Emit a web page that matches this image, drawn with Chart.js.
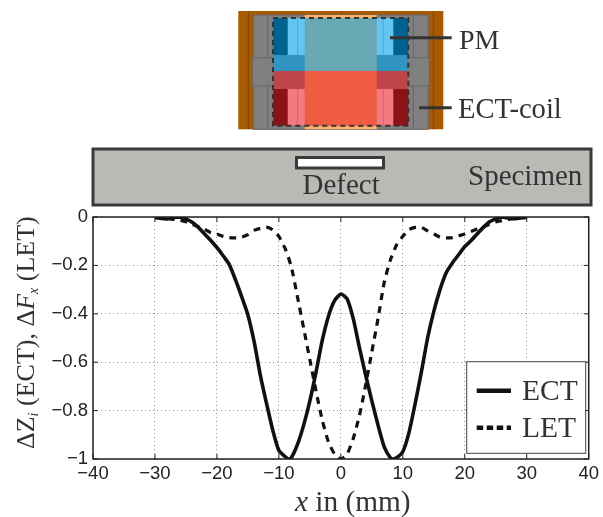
<!DOCTYPE html>
<html>
<head>
<meta charset="utf-8">
<title>ECT and LET signals</title>
<script src="https://cdn.jsdelivr.net/npm/chart.js@4/dist/chart.umd.min.js"></script>
<style>
    html, body { margin: 0; padding: 0; background: #fff; overflow: hidden; }
    #wrap { position: relative; width: 603px; height: 517px; }
    canvas, svg { position: absolute; left: 0; top: 0; }
    svg text { font-family: "Liberation Serif", serif; fill: #333; }
</style>
</head>
<body>
<div id="wrap">
    <canvas id="signalChart" width="603" height="517"></canvas>
    <svg width="603" height="517" viewBox="0 0 603 517">
        <!-- sensor sketch -->
        <rect x="238.3" y="11" width="205" height="118.3" fill="#a85a00"/>
        <path d="M248.3 11V129.3M433.3 11V129.3M341.5 11V15" stroke="#7a4200" stroke-width="1" fill="none"/>
        <rect x="253.3" y="15" width="175" height="114.3" fill="#808080" stroke="#666"/>
        <rect x="252.3" y="57.7" width="177" height="28.3" fill="#808080" stroke="#666"/>
        <path d="M267.7 15V57.7M413.3 15V57.7M267.7 86V129.3M413.3 86V129.3" stroke="#666" fill="none"/>
        <rect x="304.7" y="15" width="72" height="114.3" fill="#fcb06a"/>
        <rect x="273.3" y="18" width="135" height="37" fill="#00628f"/>
        <rect x="287.7" y="18" width="105.6" height="37" fill="#64c4f2"/>
        <rect x="273.3" y="55" width="135" height="16" fill="#3294c0"/>
        <rect x="304.7" y="18" width="72" height="53" fill="#69a9b6"/>
        <rect x="273.3" y="71" width="135" height="18" fill="#c04548"/>
        <rect x="273.3" y="89" width="135" height="36.7" fill="#8c1218"/>
        <rect x="287.7" y="89" width="105.6" height="36.7" fill="#f27a80"/>
        <rect x="304.7" y="71" width="72" height="54.7" fill="#f05c42"/>
        <path d="M297.7 18V55M383.3 18V55" stroke="#4aa8d8" fill="none"/>
        <path d="M297.7 89V125.7M383.3 89V125.7" stroke="#d9646a" fill="none"/>
        <rect x="273" y="18" width="135.3" height="107.7" fill="none" stroke="#333" stroke-width="2" stroke-dasharray="5 4"/>
        <path d="M390 37.7H451.7M419 107.7H451.7" stroke="#333" stroke-width="3" fill="none"/>
        <text x="459" y="49" font-size="28">PM</text>
        <text x="458" y="118" font-size="28.6">ECT-coil</text>

        <!-- specimen -->
        <rect x="93" y="149" width="498" height="56" fill="#bbb9b6" stroke="#3a3a3a" stroke-width="3"/>
        <rect x="296.5" y="157.5" width="87" height="10.5" fill="#fff" stroke="#3a3a3a" stroke-width="3"/>
        <text x="302.5" y="194" font-size="29">Defect</text>
        <text x="468" y="185" font-size="29">Specimen</text>

        <!-- axis titles -->
        <text transform="translate(34 449) rotate(-90)" font-size="26">ΔZ<tspan font-size="14" dy="4" font-style="italic">i</tspan><tspan dy="-4"> (ECT), Δ</tspan><tspan font-style="italic">F</tspan><tspan font-size="14" dy="4" font-style="italic">x</tspan><tspan dy="-4"> (LET)</tspan></text>
        <text x="295" y="511" font-size="29.3"><tspan font-style="italic">x</tspan> in (mm)</text>

        <!-- legend -->
        <rect x="466.7" y="361.7" width="119" height="91.6" fill="#fff" stroke="#444" stroke-width="1"/>
        <line x1="476.7" x2="511" y1="390.7" y2="390.7" stroke="#111" stroke-width="4.5"/>
        <line x1="476.7" x2="511" y1="427.7" y2="427.7" stroke="#111" stroke-width="4.5" stroke-dasharray="6.5 3.5"/>
        <text x="522" y="400" font-size="29.5">ECT</text>
        <text x="522" y="437" font-size="29.5">LET</text>
    </svg>
</div>
<script>
const ectX = [-30, -28, -27, -26, -25, -24, -23, -22, -21, -20, -19, -18, -17, -16, -15, -14, -13, -12, -11, -10, -9, -8.5, -8, -7, -6, -5, -4, -3, -2, -1, 0, 1, 2, 3, 4, 5, 6, 7, 8, 8.5, 9, 10, 11, 12, 13, 14, 15, 16, 17, 18, 19, 20, 21, 22, 23, 24, 25, 26, 27, 28, 30];
const ectY = [-0.003, -0.008, -0.002, 0, -0.008, -0.022, -0.043, -0.07, -0.097, -0.126, -0.16, -0.197, -0.26, -0.33, -0.405, -0.515, -0.653, -0.77, -0.88, -0.965, -0.99, -1, -0.995, -0.94, -0.86, -0.76, -0.64, -0.51, -0.41, -0.345, -0.318, -0.338, -0.42, -0.54, -0.653, -0.76, -0.86, -0.95, -0.995, -1, -0.995, -0.97, -0.89, -0.77, -0.64, -0.5, -0.39, -0.3, -0.23, -0.19, -0.156, -0.122, -0.098, -0.07, -0.043, -0.02, -0.008, 0, -0.004, -0.007, -0.002];

const letX = [-30, -28, -27, -26, -25, -24, -23, -22, -21, -20, -19, -18, -17, -16, -15, -14, -13, -12, -11, -10, -9, -8, -7, -6, -5, -4, -3, -2, -1, 0, 1, 2, 3, 4, 5, 6, 7, 8, 9, 10, 11, 12, 13, 14, 15, 16, 17, 18, 19, 20, 21, 22, 23, 24, 25, 26, 27, 28, 29, 30];
const letY = [0, -0.005, -0.01, -0.012, -0.02, -0.03, -0.04, -0.05, -0.065, -0.07, -0.08, -0.085, -0.086, -0.083, -0.073, -0.055, -0.047, -0.042, -0.053, -0.08, -0.13, -0.205, -0.33, -0.46, -0.59, -0.72, -0.84, -0.93, -0.98, -1, -0.98, -0.915, -0.82, -0.695, -0.557, -0.42, -0.27, -0.177, -0.115, -0.08, -0.052, -0.043, -0.043, -0.057, -0.07, -0.083, -0.086, -0.085, -0.078, -0.07, -0.06, -0.05, -0.04, -0.03, -0.02, -0.015, -0.01, -0.005, -0.003, 0];

const seriesNames = ['ECT', 'LET'];

function toPoints(xs, ys) {
    return xs.map((x, i) => ({ x: x, y: ys[i] }));
}

function minusLabel(value) {
    return String(Number(value.toFixed(1))).replace('-', '\u2212');
}

// MATLAB style box with the ticks pointing inward
const frameBox = {
    id: 'frameBox',
    afterDatasetsDraw(chart) {
        const { ctx, chartArea: a, scales } = chart;
        ctx.save();
        ctx.strokeStyle = '#222';
        ctx.lineWidth = 1.5;
        ctx.strokeRect(a.left, a.top, a.right - a.left, a.bottom - a.top);
        ctx.lineWidth = 1;
        ctx.beginPath();
        scales.x.ticks.forEach(t => {
            const px = scales.x.getPixelForValue(t.value);
            ctx.moveTo(px, a.bottom);
            ctx.lineTo(px, a.bottom - 5);
            ctx.moveTo(px, a.top);
            ctx.lineTo(px, a.top + 5);
        });
        scales.y.ticks.forEach(t => {
            const py = scales.y.getPixelForValue(t.value);
            ctx.moveTo(a.left, py);
            ctx.lineTo(a.left + 5, py);
            ctx.moveTo(a.right, py);
            ctx.lineTo(a.right - 5, py);
        });
        ctx.stroke();
        ctx.restore();
    }
};

const gridStyle = {
    color: '#999',
    lineWidth: 1,
    drawTicks: false
};
const tickFont = { family: '"Liberation Sans", sans-serif', size: 18.5 };

new Chart(document.getElementById('signalChart').getContext('2d'), {
    type: 'scatter',
    data: {
        datasets: [{
            label: seriesNames[0],
            data: toPoints(ectX, ectY),
            showLine: true,
            borderColor: '#111',
            borderWidth: 3.6,
            pointRadius: 0,
            tension: 0.2
        }, {
            label: seriesNames[1],
            data: toPoints(letX, letY),
            showLine: true,
            borderColor: '#111',
            borderWidth: 3.2,
            borderDash: [7, 6],
            pointRadius: 0,
            tension: 0.2
        }]
    },
    options: {
        responsive: false,
        animation: false,
        layout: { padding: { top: 217, right: 12, left: 0, bottom: 0 } },
        plugins: { legend: { display: false }, tooltip: { enabled: false } },
        scales: {
            x: {
                type: 'linear',
                min: -40,
                max: 40,
                grid: gridStyle,
                border: { display: false, dash: [1, 3] },
                afterFit: scale => { scale.height = 58; },
                ticks: {
                    stepSize: 10,
                    padding: 4,
                    maxRotation: 0,
                    color: '#222',
                    font: tickFont,
                    callback: minusLabel
                }
            },
            y: {
                type: 'linear',
                min: -1,
                max: 0,
                grid: gridStyle,
                border: { display: false, dash: [1, 3] },
                afterFit: scale => { scale.width = 93; },
                ticks: {
                    stepSize: 0.2,
                    padding: 5,
                    color: '#222',
                    font: tickFont,
                    callback: minusLabel
                }
            }
        }
    },
    plugins: [frameBox]
});
</script>
</body>
</html>
